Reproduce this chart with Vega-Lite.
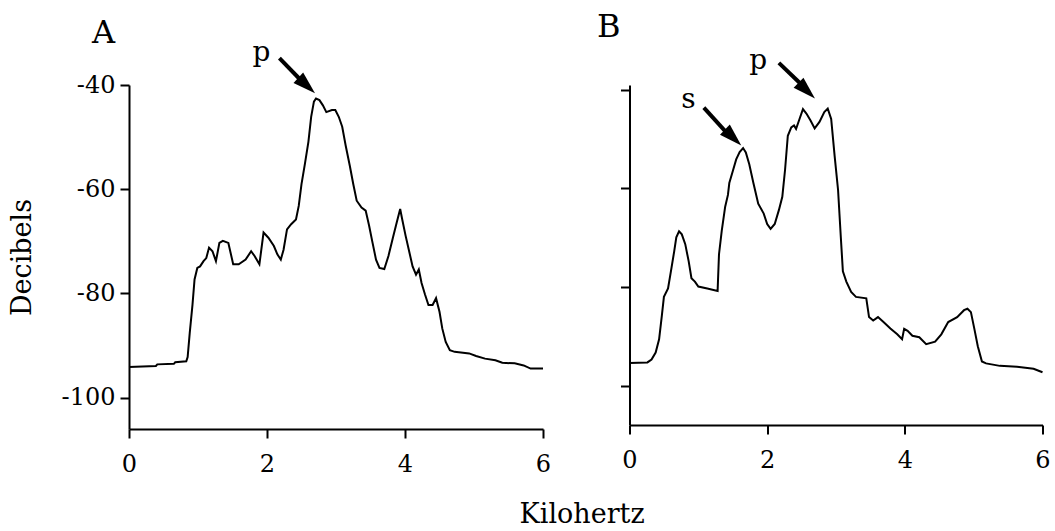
{
  "$schema": "https://vega.github.io/schema/vega-lite/v6.json",
  "background": "white",
  "padding": {"left": 8, "top": 11, "right": 5, "bottom": 2},
  "config": {
    "font": "DejaVu Serif",
    "view": {"stroke": null},
    "axis": {
      "domainColor": "black", "domainWidth": 2, "tickColor": "black", "tickWidth": 2, "tickSize": 9,
      "labelColor": "black", "labelFont": "DejaVu Serif", "labelFontSize": 24, "grid": false,
      "titleFont": "DejaVu Serif", "titleFontWeight": "normal", "titleColor": "black", "titleFontSize": 27,
      "labelExpr": "datum.value < 0 ? '-' + abs(datum.value) : '' + datum.value"
    },
    "title": {"font": "DejaVu Serif", "fontSize": 27, "fontWeight": "normal", "color": "black"},
    "concat": {"spacing": 45.5}
  },
  "title": {"text": "Kilohertz", "orient": "bottom", "anchor": "middle", "offset": 26, "dx": 53},
  "datasets": {
    "a": [
      {"kHz": 0, "dB": -94.1}, {"kHz": 0.39, "dB": -93.9}, {"kHz": 0.41, "dB": -93.6}, {"kHz": 0.65, "dB": -93.5},
      {"kHz": 0.67, "dB": -93.2}, {"kHz": 0.83, "dB": -93.0}, {"kHz": 0.85, "dB": -92.2}, {"kHz": 0.88, "dB": -87.6},
      {"kHz": 0.92, "dB": -82.2}, {"kHz": 0.95, "dB": -77.3}, {"kHz": 0.99, "dB": -75.1}, {"kHz": 1.03, "dB": -74.8},
      {"kHz": 1.08, "dB": -73.8}, {"kHz": 1.12, "dB": -73.2}, {"kHz": 1.16, "dB": -71.2}, {"kHz": 1.21, "dB": -71.9},
      {"kHz": 1.26, "dB": -73.8}, {"kHz": 1.31, "dB": -70.3}, {"kHz": 1.36, "dB": -69.9}, {"kHz": 1.44, "dB": -70.3},
      {"kHz": 1.51, "dB": -74.4}, {"kHz": 1.59, "dB": -74.4}, {"kHz": 1.69, "dB": -73.5}, {"kHz": 1.77, "dB": -71.9},
      {"kHz": 1.82, "dB": -72.8}, {"kHz": 1.89, "dB": -74.4}, {"kHz": 1.95, "dB": -68.3}, {"kHz": 2.02, "dB": -69.3},
      {"kHz": 2.10, "dB": -70.9}, {"kHz": 2.15, "dB": -72.5}, {"kHz": 2.20, "dB": -73.5}, {"kHz": 2.24, "dB": -71.6},
      {"kHz": 2.29, "dB": -67.7}, {"kHz": 2.35, "dB": -66.7}, {"kHz": 2.42, "dB": -65.8}, {"kHz": 2.46, "dB": -63.2},
      {"kHz": 2.50, "dB": -59.0}, {"kHz": 2.55, "dB": -55.1}, {"kHz": 2.60, "dB": -50.9}, {"kHz": 2.64, "dB": -46.1},
      {"kHz": 2.68, "dB": -43.2}, {"kHz": 2.71, "dB": -42.6}, {"kHz": 2.76, "dB": -42.9}, {"kHz": 2.81, "dB": -43.9},
      {"kHz": 2.86, "dB": -45.2}, {"kHz": 2.94, "dB": -44.8}, {"kHz": 2.99, "dB": -44.8}, {"kHz": 3.04, "dB": -46.1},
      {"kHz": 3.09, "dB": -48.0}, {"kHz": 3.14, "dB": -51.6}, {"kHz": 3.20, "dB": -55.5}, {"kHz": 3.25, "dB": -59.0},
      {"kHz": 3.30, "dB": -62.2}, {"kHz": 3.37, "dB": -63.5}, {"kHz": 3.43, "dB": -64.1}, {"kHz": 3.48, "dB": -67.0},
      {"kHz": 3.53, "dB": -70.3}, {"kHz": 3.58, "dB": -73.5}, {"kHz": 3.63, "dB": -75.1}, {"kHz": 3.70, "dB": -75.3},
      {"kHz": 3.76, "dB": -72.8}, {"kHz": 3.83, "dB": -69.0}, {"kHz": 3.88, "dB": -66.4}, {"kHz": 3.93, "dB": -63.8},
      {"kHz": 3.96, "dB": -65.8}, {"kHz": 4.01, "dB": -69.0}, {"kHz": 4.06, "dB": -71.9}, {"kHz": 4.11, "dB": -74.8},
      {"kHz": 4.16, "dB": -76.4}, {"kHz": 4.20, "dB": -75.4}, {"kHz": 4.24, "dB": -78.0}, {"kHz": 4.29, "dB": -80.2},
      {"kHz": 4.34, "dB": -82.2}, {"kHz": 4.40, "dB": -82.2}, {"kHz": 4.45, "dB": -80.9}, {"kHz": 4.50, "dB": -83.5},
      {"kHz": 4.54, "dB": -86.7}, {"kHz": 4.59, "dB": -89.3}, {"kHz": 4.65, "dB": -90.9}, {"kHz": 4.72, "dB": -91.2},
      {"kHz": 4.93, "dB": -91.5}, {"kHz": 5.03, "dB": -92.0}, {"kHz": 5.16, "dB": -92.5}, {"kHz": 5.31, "dB": -92.8},
      {"kHz": 5.41, "dB": -93.3}, {"kHz": 5.59, "dB": -93.4}, {"kHz": 5.72, "dB": -93.8}, {"kHz": 5.82, "dB": -94.4},
      {"kHz": 6.0, "dB": -94.4}
    ],
    "b": [
      {"kHz": 0, "dB": -95.4}, {"kHz": 0.26, "dB": -95.3}, {"kHz": 0.32, "dB": -94.7}, {"kHz": 0.38, "dB": -93.3},
      {"kHz": 0.43, "dB": -90.6}, {"kHz": 0.47, "dB": -85.8}, {"kHz": 0.50, "dB": -82.0}, {"kHz": 0.56, "dB": -80.3},
      {"kHz": 0.61, "dB": -76.1}, {"kHz": 0.65, "dB": -72.7}, {"kHz": 0.68, "dB": -69.9}, {"kHz": 0.72, "dB": -68.7},
      {"kHz": 0.76, "dB": -69.3}, {"kHz": 0.81, "dB": -71.3}, {"kHz": 0.86, "dB": -74.8}, {"kHz": 0.90, "dB": -78.2},
      {"kHz": 0.95, "dB": -78.9}, {"kHz": 1.00, "dB": -79.9}, {"kHz": 1.13, "dB": -80.3}, {"kHz": 1.28, "dB": -80.8},
      {"kHz": 1.30, "dB": -73.4}, {"kHz": 1.34, "dB": -68.6}, {"kHz": 1.39, "dB": -63.7}, {"kHz": 1.43, "dB": -61.3},
      {"kHz": 1.45, "dB": -58.9}, {"kHz": 1.50, "dB": -56.5}, {"kHz": 1.55, "dB": -54.1}, {"kHz": 1.60, "dB": -52.6},
      {"kHz": 1.65, "dB": -51.8}, {"kHz": 1.69, "dB": -52.7}, {"kHz": 1.74, "dB": -55.1}, {"kHz": 1.80, "dB": -58.9},
      {"kHz": 1.87, "dB": -63.1}, {"kHz": 1.95, "dB": -65.1}, {"kHz": 2.00, "dB": -67.2}, {"kHz": 2.05, "dB": -68.2},
      {"kHz": 2.11, "dB": -67.2}, {"kHz": 2.17, "dB": -64.4}, {"kHz": 2.22, "dB": -61.7}, {"kHz": 2.26, "dB": -56.2},
      {"kHz": 2.30, "dB": -49.3}, {"kHz": 2.35, "dB": -47.6}, {"kHz": 2.39, "dB": -47.2}, {"kHz": 2.42, "dB": -47.9},
      {"kHz": 2.47, "dB": -45.9}, {"kHz": 2.52, "dB": -43.9}, {"kHz": 2.57, "dB": -44.8}, {"kHz": 2.63, "dB": -46.2},
      {"kHz": 2.69, "dB": -47.8}, {"kHz": 2.76, "dB": -46.5}, {"kHz": 2.83, "dB": -44.5}, {"kHz": 2.88, "dB": -43.8},
      {"kHz": 2.93, "dB": -45.9}, {"kHz": 2.98, "dB": -53.4}, {"kHz": 3.03, "dB": -60.3}, {"kHz": 3.07, "dB": -69.9},
      {"kHz": 3.10, "dB": -76.8}, {"kHz": 3.15, "dB": -78.9}, {"kHz": 3.22, "dB": -81.0}, {"kHz": 3.29, "dB": -82.0},
      {"kHz": 3.44, "dB": -82.3}, {"kHz": 3.48, "dB": -86.1}, {"kHz": 3.54, "dB": -86.8}, {"kHz": 3.61, "dB": -86.1},
      {"kHz": 3.69, "dB": -87.1}, {"kHz": 3.79, "dB": -88.4}, {"kHz": 3.89, "dB": -89.6}, {"kHz": 3.96, "dB": -90.6},
      {"kHz": 3.99, "dB": -88.5}, {"kHz": 4.04, "dB": -88.9}, {"kHz": 4.11, "dB": -89.9}, {"kHz": 4.21, "dB": -90.2},
      {"kHz": 4.31, "dB": -91.6}, {"kHz": 4.44, "dB": -91.1}, {"kHz": 4.53, "dB": -89.6}, {"kHz": 4.63, "dB": -87.1},
      {"kHz": 4.76, "dB": -86.1}, {"kHz": 4.86, "dB": -84.7}, {"kHz": 4.91, "dB": -84.4}, {"kHz": 4.96, "dB": -85.1},
      {"kHz": 5.01, "dB": -88.5}, {"kHz": 5.06, "dB": -92.0}, {"kHz": 5.12, "dB": -95.1}, {"kHz": 5.18, "dB": -95.5},
      {"kHz": 5.38, "dB": -96.0}, {"kHz": 5.63, "dB": -96.2}, {"kHz": 5.87, "dB": -96.6}, {"kHz": 6.0, "dB": -97.3}
    ],
    "panelA": [{"kHz": -0.37, "dB": -30.1, "label": "A"}],
    "panelB": [{"kHz": -0.3, "dB": -27.3, "label": "B"}],
    "letA": [{"kHz": 1.92, "dB": -33.9, "label": "p"}],
    "letB": [{"kHz": 0.855, "dB": -42.1, "label": "s"}, {"kHz": 1.87, "dB": -34.1, "label": "p"}],
    "shaftA": [{"kHz": 2.18, "dB": -34.85, "kHz2": 2.47, "dB2": -38.8}],
    "shaftB": [{"kHz": 1.08, "dB": -43.6, "kHz2": 1.40, "dB2": -48.5}, {"kHz": 2.17, "dB": -34.5, "kHz2": 2.49, "dB2": -38.8}],
    "headA": [{"kHz": 2.575, "dB": -40.1}],
    "headB": [{"kHz": 1.505, "dB": -49.65}, {"kHz": 2.575, "dB": -40.15}]
  },
  "hconcat": [
    {
      "width": 414,
      "height": 344,
      "encoding": {
        "x": {"field": "kHz", "type": "quantitative",
              "scale": {"domain": [0, 6], "nice": false, "zero": false},
              "axis": {"values": [0, 2, 4, 6], "title": null, "labelPadding": 14, "labelFlush": false}},
        "y": {"field": "dB", "type": "quantitative",
              "scale": {"domain": [-106, -40], "nice": false, "zero": false},
              "axis": {"values": [-40, -60, -80, -100], "title": "Decibels", "labelPadding": 5, "titlePadding": 25}}
      },
      "layer": [
        {"data": {"name": "a"}, "mark": {"type": "line", "color": "black", "strokeWidth": 2}},
        {"data": {"name": "shaftA"}, "mark": {"type": "rule", "color": "black", "strokeWidth": 4},
         "encoding": {"x2": {"field": "kHz2"}, "y2": {"field": "dB2"}}},
        {"data": {"name": "headA"}, "mark": {"type": "point", "shape": "M0,-1L0.62,1L-0.62,1Z", "filled": true, "color": "black", "opacity": 1, "size": 520, "angle": 133}},
        {"data": {"name": "letA"}, "mark": {"type": "text", "fontSize": 28, "color": "black", "baseline": "middle", "align": "center"},
         "encoding": {"text": {"field": "label"}}},
        {"data": {"name": "panelA"}, "mark": {"type": "text", "fontSize": 32, "color": "black", "baseline": "middle", "align": "center"},
         "encoding": {"text": {"field": "label"}}}
      ]
    },
    {
      "width": 413,
      "height": 340,
      "encoding": {
        "x": {"field": "kHz", "type": "quantitative",
              "scale": {"domain": [0, 6], "nice": false, "zero": false},
              "axis": {"values": [0, 2, 4, 6], "title": null, "labelPadding": 14, "labelFlush": false}},
        "y": {"field": "dB", "type": "quantitative",
              "scale": {"domain": [-108, -39], "nice": false, "zero": false},
              "axis": {"values": [-40, -60, -80, -100], "title": null, "labels": false}}
      },
      "layer": [
        {"data": {"name": "b"}, "mark": {"type": "line", "color": "black", "strokeWidth": 2}},
        {"data": {"name": "shaftB"}, "mark": {"type": "rule", "color": "black", "strokeWidth": 4},
         "encoding": {"x2": {"field": "kHz2"}, "y2": {"field": "dB2"}}},
        {"data": {"name": "headB"}, "mark": {"type": "point", "shape": "M0,-1L0.62,1L-0.62,1Z", "filled": true, "color": "black", "opacity": 1, "size": 520, "angle": 134}},
        {"data": {"name": "letB"}, "mark": {"type": "text", "fontSize": 28, "color": "black", "baseline": "middle", "align": "center"},
         "encoding": {"text": {"field": "label"}}},
        {"data": {"name": "panelB"}, "mark": {"type": "text", "fontSize": 32, "color": "black", "baseline": "middle", "align": "center"},
         "encoding": {"text": {"field": "label"}}}
      ]
    }
  ]
}
